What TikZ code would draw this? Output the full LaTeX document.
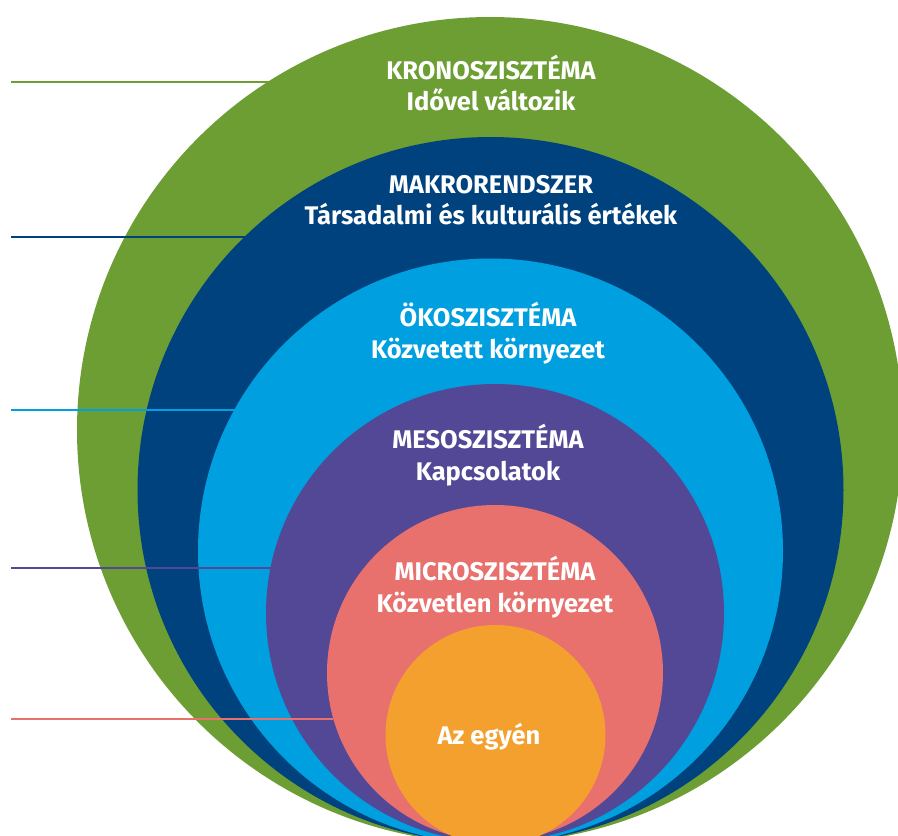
\documentclass[tikz,border=0pt]{standalone}
\usepackage{fontspec}
\setmainfont{Fira Sans}
\begin{document}
\begin{tikzpicture}[x=1pt,y=-1pt,
  ring/.style={circle,inner sep=0pt,outer sep=0pt,minimum size=#1},
  label/.style={text=white,align=center,font=\fontsize{25.5}{31.5}\selectfont\bfseries,inner sep=0pt},
  tick/.style={line width=2.8pt}]
\definecolor{kron}{RGB}{109,158,51}
\definecolor{makro}{RGB}{0,66,126}
\definecolor{oko}{RGB}{0,159,223}
\definecolor{meso}{RGB}{82,72,150}
\definecolor{micro}{RGB}{232,112,109}
\definecolor{self}{RGB}{243,160,46}
\clip (0,0) rectangle (898,836);
\fill[white] (0,0) rectangle (898,836);
% nested system rings
\node[ring=826pt,fill=kron]  (kr) at (490,430) {};
\node[ring=706pt,fill=makro] (mk) at (490.5,490) {};
\node[ring=585pt,fill=oko]   (ok) at (490.5,551) {};
\node[ring=458pt,fill=meso]  (ms) at (495,613) {};
\node[ring=336pt,fill=micro] (mc) at (495,673) {};
\node[ring=220pt,fill=self]  (eg) at (495.5,735) {};
% marker lines on the left
\coordinate (lkr) at (11,82);
\coordinate (lmk) at (11,237);
\coordinate (lok) at (11,410);
\coordinate (lms) at (11,568);
\coordinate (lmc) at (11,719);
\draw[tick,kron]  (lkr) -- (lkr -| kr.122.6);
\draw[tick,makro] (lmk) -- (lmk -| mk.134.2);
\draw[tick,oko]   (lok) -- (lok -| ok.151.2);
\draw[tick,meso]  (lms) -- (lms -| ms.168.7);
\draw[tick,micro] (lmc) -- (lmc -| mc.195.9);
% ring titles
\node[label] (tkr) at (491,83)  {KRONOSZISZTÉMA\\Idővel változik};
\node[label] (tmk) at (491,200) {MAKRORENDSZER\\Társadalmi és kulturális értékek};
\node[label] (tok) at (488,333) {ÖKOSZISZTÉMA\\Közvetett környezet};
\node[label] (tms) at (488,455) {MESOSZISZTÉMA\\Kapcsolatok};
\node[label] (tmc) at (495,587) {MICROSZISZTÉMA\\Közvetlen környezet};
\node[label] (teg) at (489,737) {Az egyén};
\end{tikzpicture}
\end{document}
